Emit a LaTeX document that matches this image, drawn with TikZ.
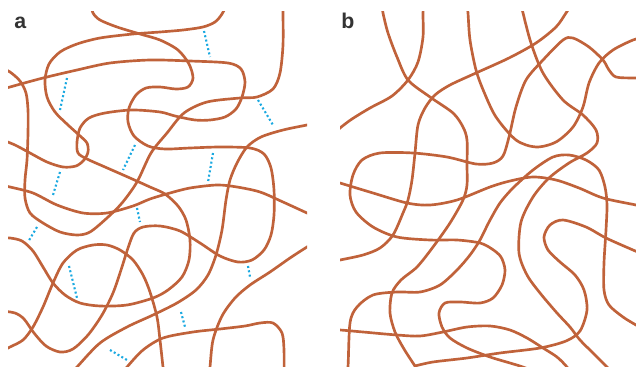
\documentclass[tikz,border=0pt]{standalone}
\usepackage{fontspec}
\setmainfont{Liberation Sans}
\definecolor{chain}{RGB}{192,98,58}
\definecolor{link}{RGB}{27,169,225}
\definecolor{tag}{RGB}{51,51,51}
\begin{document}
\begin{tikzpicture}[x=0.75pt,y=-0.75pt,
  chainline/.style={draw=chain,line width=2pt,line cap=round,line join=round},
  crosslink/.style={draw=link,line width=1.6pt,dash pattern=on 1.5pt off 1.8pt},
  paneltag/.style={font=\fontsize{16}{16}\selectfont\bfseries,text=tag,anchor=base west,inner sep=0pt}]
\useasboundingbox (0,0) rectangle (636,367);

\node[paneltag] (taga) at (14,29) {a};
\node[paneltag] (tagb) at (341,29) {b};

% ---------- panel a: crosslinked chains ----------
\begin{scope}
\clip (8,12) rectangle (307,367);
% chain starting at the top, looping, leaving on the left
\draw[chainline] plot[smooth] coordinates {(91,4) (93,13) (100,20) (117,27) (140,34) (160,40) (178,50) (189,64) (193,78) (188,87) (176,89) (160,87) (146,88) (136,95) (129,108) (128,122) (134,136) (148,146) (165,149) (190,148) (220,147) (250,148) (264,154) (271,168) (274,190) (274,215) (271,235) (264,250) (252,260) (238,262) (220,256) (200,243) (180,231) (160,226) (143,227) (134,233) (128,248) (121,270) (113,293) (102,315) (88,335) (73,349) (60,352) (46,346) (34,333) (24,319) (15,313) (2,311)};
% chain from the top down to the small loop
\draw[chainline] plot[smooth] coordinates {(227,4) (222,14) (215,22) (203,27) (183,30) (160,32) (133,34) (100,38) (77,44) (60,52) (49,64) (45,80) (47,97) (55,112) (68,125) (79,135) (87,143) (88,152) (84,160) (76,166) (63,167) (47,162) (30,153) (15,145) (0,139)};
% long chain entering and leaving on the left
\draw[chainline] plot[smooth] coordinates {(0,90) (10,87) (43,78) (77,70) (110,63) (150,60) (190,61) (228,63) (241,69) (245,82) (242,97) (236,109) (225,117) (210,120) (195,120) (175,116) (160,112) (132,110) (105,113) (89,118) (80,128) (77,142) (78,153) (87,159) (105,167) (130,178) (150,187) (165,194) (178,206) (186,220) (190,240) (189,260) (182,277) (168,290) (153,298) (127,305) (100,306) (80,303) (65,295) (53,283) (43,267) (33,251) (22,241) (10,238) (0,238)};
% chain from the top right down to the left edge
\draw[chainline] plot[smooth] coordinates {(283,4) (283,13) (283,45) (280,73) (273,89) (257,97) (240,98) (207,102) (184,113) (167,133) (151,153) (137,182) (122,203) (107,218) (90,232) (77,235) (60,232) (43,223) (30,213) (25,198) (25,180) (27,160) (28,133) (28,110) (26,93) (20,81) (10,72) (0,67)};
% chain crossing the middle
\draw[chainline] plot[smooth] coordinates {(0,185) (10,187) (33,193) (57,205) (83,213) (107,213) (133,206) (150,199) (170,193) (190,188) (217,185) (237,187) (260,192) (283,202) (307,213) (316,217)};
% chain from the right edge to the bottom
\draw[chainline] plot[smooth] coordinates {(316,123) (307,125) (283,130) (261,137) (247,147) (237,163) (230,180) (226,200) (222,230) (216,255) (208,275) (196,290) (177,303) (153,315) (127,327) (100,343) (77,367) (70,375)};
% arch from the left edge to the bottom
\draw[chainline] plot[smooth] coordinates {(0,352) (10,347) (23,340) (33,327) (43,307) (53,283) (63,263) (77,250) (93,245) (107,245) (120,250) (133,260) (143,275) (150,292) (157,317) (160,340) (163,367) (164,376)};
% chain rising from the bottom and returning to it
\draw[chainline] plot[smooth] coordinates {(120,376) (127,367) (143,350) (163,338) (193,332) (220,329) (245,326) (260,323) (273,323) (282,333) (284,350) (284,376)};
% chain from the right edge to the bottom
\draw[chainline] plot[smooth] coordinates {(316,242) (307,247) (290,258) (270,272) (250,285) (235,298) (222,316) (213,340) (210,367) (209,376)};
\end{scope}

% crosslinks between neighbouring chains
\draw[crosslink] (67,78) -- (60,110);
\draw[crosslink] (135,145) -- (123,170);
\draw[crosslink] (60,172) -- (53,195);
\draw[crosslink] (204,31) -- (210,57);
\draw[crosslink] (258,100) -- (273,125);
\draw[crosslink] (213,153) -- (208,182);
\draw[crosslink] (37,227) -- (28,242);
\draw[crosslink] (69,266) -- (77,298);
\draw[crosslink] (137,208) -- (140,222);
\draw[crosslink] (110,350) -- (127,360);
\draw[crosslink] (248,266) -- (250,277);
\draw[crosslink] (181,312) -- (185,327);

% ---------- panel b: free chains ----------
\begin{scope}
\clip (340,12) rectangle (636,367);
\draw[chainline] plot[smooth] coordinates {(382,4) (383,13) (388,33) (397,57) (408,80) (430,97) (453,113) (463,127) (467,140) (467,165) (467,185) (463,200) (450,223) (433,247) (417,267) (401,280) (392,293) (390,313) (395,332) (404,349) (415,366)};
\draw[chainline] plot[smooth] coordinates {(415,366) (433,362) (467,358) (500,353) (540,348) (566,341) (580,331) (587,310) (584,290) (575,275) (560,262) (548,250) (544,237) (550,225) (563,220) (586,227) (606,238) (633,250) (645,255)};
\draw[chainline] plot[smooth] coordinates {(424,4) (423,13) (423,37) (418,62) (408,80) (392,96) (370,108) (352,119) (340,128) (331,136)};
\draw[chainline] plot[smooth] coordinates {(467,4) (468,13) (470,40) (476,70) (484,92) (496,117) (516,140) (536,147) (556,142) (573,127) (583,107) (589,83) (599,63) (613,50) (633,40) (645,37)};
\draw[chainline] plot[smooth] coordinates {(572,4) (566,13) (556,27) (536,43) (509,58) (476,73) (450,85) (435,95) (425,108) (418,125) (415,153) (412,180) (408,200) (403,213) (393,235) (380,248) (363,255) (340,260) (330,262)};
\draw[chainline] plot[smooth] coordinates {(645,78) (633,78) (616,77) (609,70) (603,60) (589,47) (573,38) (563,40) (543,60) (526,80) (516,107) (509,137) (503,156) (493,163) (476,164) (447,157) (413,153) (380,153) (362,160) (353,175) (350,195) (356,212) (373,227) (397,237) (430,240) (457,240) (480,243) (492,249) (501,257) (505,270) (502,285) (493,298) (480,303) (460,302) (445,303) (439,313) (442,327) (450,338) (467,348) (490,357) (510,363) (523,367) (535,372)};
\draw[chainline] plot[smooth] coordinates {(330,180) (340,183) (373,193) (407,203) (430,205) (457,200) (490,187) (510,181) (533,177) (556,180) (579,188) (603,198) (636,205) (645,207)};
\draw[chainline] plot[smooth] coordinates {(521,4) (523,13) (531,43) (543,73) (563,100) (583,115) (596,130) (597,143) (587,153) (569,163) (549,178) (533,197) (521,222) (519,253) (527,275) (540,293) (557,313) (570,327) (580,340) (593,353) (607,367) (614,375)};
\draw[chainline] plot[smooth] coordinates {(346,376) (348,367) (350,323) (357,307) (373,295) (397,292) (420,292) (440,285) (457,270) (470,255) (480,240) (489,222) (500,203) (513,188) (533,170) (553,157) (569,155) (586,160) (599,170) (605,187) (607,205) (606,230) (604,263) (604,290) (609,305) (623,317) (636,325) (645,330)};
\draw[chainline] plot[smooth] coordinates {(330,330) (340,330) (363,332) (397,335) (420,336) (443,332) (467,327) (490,326) (510,330) (527,338) (543,348) (557,357) (567,367) (572,375)};
\end{scope}
\end{tikzpicture}
\end{document}
